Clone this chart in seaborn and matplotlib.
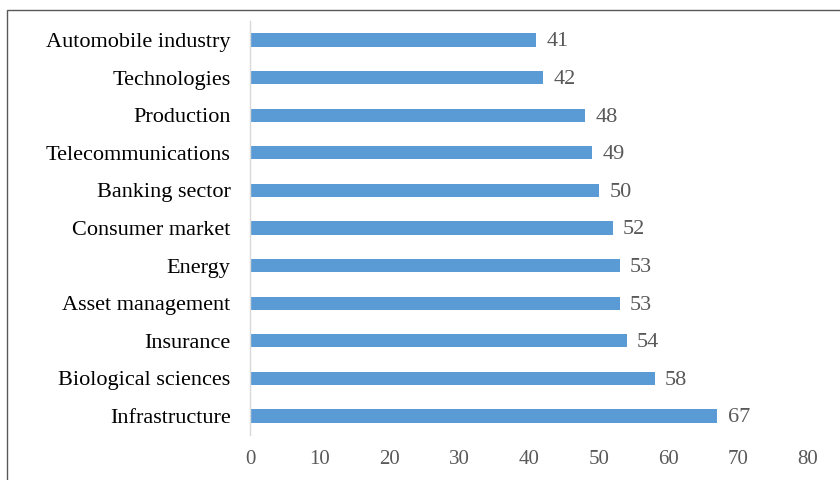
import matplotlib
matplotlib.use("Agg")
import matplotlib.pyplot as plt
import seaborn as sns
import pandas as pd

sectors = ["Automobile industry", "Technologies", "Production", "Telecommunications",
           "Banking sector", "Consumer market", "Energy", "Asset management",
           "Insurance", "Biological sciences", "Infrastructure"]
values = [41, 42, 48, 49, 50, 52, 53, 53, 54, 58, 67]
x_ticks = [0, 10, 20, 30, 40, 50, 60, 70, 80]

sns.set_style("white")
plt.rcParams['font.family'] = ['Liberation Serif', 'DejaVu Serif']

df = pd.DataFrame({"sector": sectors, "value": values})

fig = plt.figure(figsize=(8.4, 4.8), dpi=100)
ax = fig.add_axes([0.2976, 0.0942, 0.6643, 0.8616])

sns.barplot(data=df, x="value", y="sector", color="#5B9BD5", width=0.35,
            saturation=1, ax=ax, edgecolor="none")

for i, v in enumerate(values):
    ax.text(v + 1.5, i + 0.05, str(v), va="center", ha="left", fontsize=16, color="#595959")

ax.set_xlim(0, 80)
ax.set_ylim(10.5, -0.5)
ax.set_xticks(x_ticks)
ax.set_xticklabels([str(t) for t in x_ticks], fontsize=15, color="#595959")
ax.tick_params(axis="y", labelsize=16, labelcolor="black", length=0, pad=14)
ax.tick_params(axis="x", length=0, pad=11)
ax.set_xlabel("")
ax.set_ylabel("")
for s in ["top", "right", "bottom"]:
    ax.spines[s].set_visible(False)
ax.spines["left"].set_color("#D9D9D9")
ax.spines["left"].set_linewidth(1)

# outer chart border (cropped on the right and bottom)
border = plt.Rectangle((7 / 840, -0.05), 1.1, 1 - 10 / 480 + 0.05, transform=fig.transFigure,
                       fill=False, edgecolor="#595959", linewidth=1)
fig.patches.append(border)

fig.savefig("out.png", dpi=100)
